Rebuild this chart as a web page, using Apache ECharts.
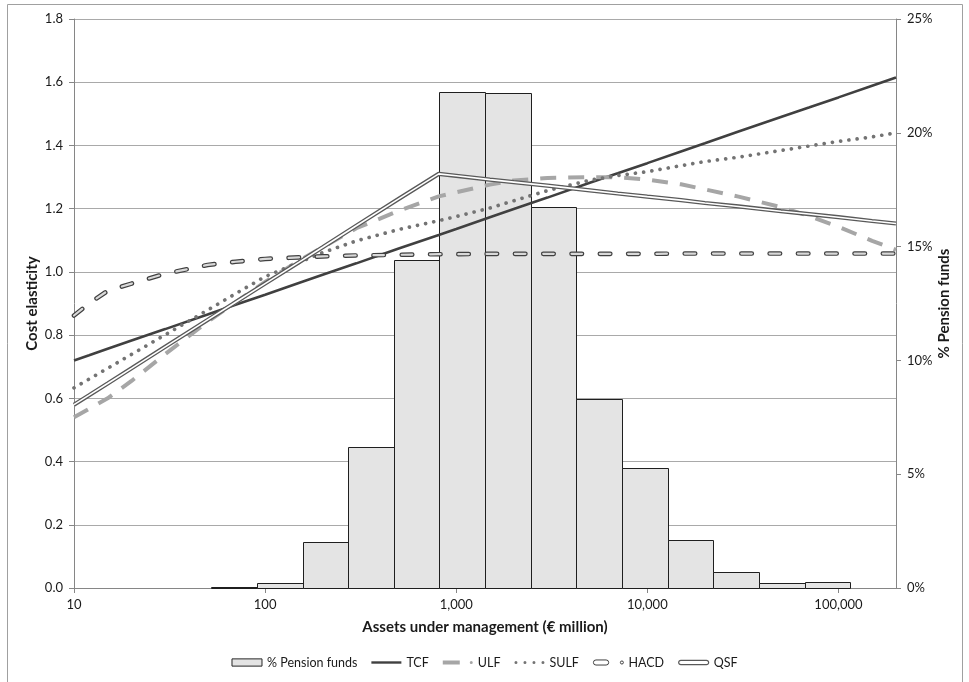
<!DOCTYPE html>
<html>
<head>
<meta charset="utf-8">
<script src="https://cdn.jsdelivr.net/npm/echarts@6/dist/echarts.min.js"></script>
<style>
  html, body { margin: 0; padding: 0; background: #ffffff; }
  #chart { width: 969px; height: 682px; }
</style>
</head>
<body>
<div id="chart"></div>
<script>
// Asset levels (EUR million) at which the elasticity curves are evaluated
const assets = [10, 12, 15, 20, 30, 50, 70, 100, 150, 200, 300, 500, 810, 1000, 1500, 2000,
                3000, 5000, 7000, 10000, 15000, 20000, 30000, 50000, 70000, 100000, 150000, 200000];

// Cost elasticity by model specification
const tcf  = [0.720, 0.736, 0.757, 0.783, 0.819, 0.865, 0.896, 0.928, 0.965, 0.991, 1.027, 1.074, 1.117, 1.136,
              1.173, 1.199, 1.235, 1.282, 1.312, 1.344, 1.381, 1.407, 1.444, 1.490, 1.520, 1.552, 1.589, 1.615];
const ulf  = [0.540, 0.567, 0.600, 0.655, 0.740, 0.842, 0.904, 0.968, 1.035, 1.078, 1.138, 1.193, 1.239, 1.252,
              1.276, 1.289, 1.297, 1.300, 1.299, 1.292, 1.277, 1.261, 1.238, 1.205, 1.177, 1.143, 1.098, 1.070];
const sulf = [0.633, 0.661, 0.695, 0.739, 0.801, 0.879, 0.931, 0.985, 1.030, 1.061, 1.098, 1.134, 1.162, 1.175,
              1.202, 1.225, 1.257, 1.290, 1.305, 1.317, 1.336, 1.349, 1.363, 1.384, 1.398, 1.413, 1.427, 1.440];
const hacd = [0.862, 0.900, 0.940, 0.963, 0.994, 1.022, 1.032, 1.041, 1.046, 1.049, 1.052, 1.054, 1.056, 1.056,
              1.057, 1.057, 1.057, 1.057, 1.057, 1.057, 1.058, 1.058, 1.058, 1.058, 1.058, 1.058, 1.058, 1.058];
const qsf  = [0.580, 0.610, 0.647, 0.695, 0.763, 0.848, 0.904, 0.963, 1.030, 1.078, 1.146, 1.231, 1.310, 1.304,
              1.292, 1.284, 1.273, 1.258, 1.248, 1.238, 1.227, 1.218, 1.207, 1.192, 1.183, 1.173, 1.161, 1.153];

// Size distribution of pension funds: bin edges (EUR million) and share of funds (%)
const binEdges = [52, 91, 157, 273, 473, 816, 1415, 2454, 4250, 7370, 12790, 22150, 38420, 66630, 115400];
const fundShare = [0.05, 0.22, 2.02, 6.20, 14.39, 21.78, 21.74, 16.72, 8.31, 5.27, 2.11, 0.70, 0.22, 0.25];

// Axis ranges
const assetRange = [10, 200000];
const elasticityRange = [0, 1.8, 0.2];
const shareRange = [0, 25, 5];

const FONT = 'Lato, "Open Sans", sans-serif';
const TEXT = '#1a1a1a';
const AXIS = '#868686';

const pair = (ys) => assets.map((a, i) => [a, ys[i]]);
const bins = fundShare.map((s, i) => [binEdges[i], binEdges[i + 1], s]);

const chart = echarts.init(document.getElementById('chart'), null, { renderer: 'canvas' });

const lineBase = {
  type: 'line',
  xAxisIndex: 0,
  yAxisIndex: 0,
  symbol: 'none',
  showSymbol: false,
  smooth: false,
  silent: true,
  z: 3
};

const tickLabel = { fontFamily: FONT, fontSize: 13, color: TEXT };
const titleText = { fontFamily: FONT, fontSize: 15, fontWeight: 'bold', color: TEXT };

chart.setOption({
  animation: false,
  backgroundColor: '#ffffff',
  textStyle: { fontFamily: FONT },
  grid: { left: 74, right: 73, top: 19, bottom: 94 },
  graphic: [{
    type: 'rect',
    silent: true,
    shape: { x: 7.5, y: 4.5, width: 955, height: 720 },
    style: { fill: 'none', stroke: '#a0a0a0', lineWidth: 1 },
    z: -10
  }],
  legend: {
    left: 'center',
    top: 656,
    padding: 0,
    itemWidth: 30,
    itemHeight: 8,
    itemGap: 14,
    selectedMode: false,
    textStyle: { fontFamily: FONT, fontSize: 12.5, color: TEXT },
    data: [
      { name: '% Pension funds', icon: 'path://M0,0H29V7H0Z',
        itemStyle: { color: '#e4e4e4', borderColor: '#262626', borderWidth: 1 } },
      { name: 'TCF', icon: 'path://M0,0H30V2.4H0Z',
        itemStyle: { color: '#404040', borderWidth: 0 } },
      { name: 'ULF', icon: 'path://M0,0H17V4H0Z M27,2a1.5,1.5 0 1,0 3,0a1.5,1.5 0 1,0 -3,0Z',
        itemStyle: { color: '#a6a6a6', borderWidth: 0 } },
      { name: 'SULF', icon: 'path://M0,1.5a1.5,1.5 0 1,0 3,0a1.5,1.5 0 1,0 -3,0Z M9,1.5a1.5,1.5 0 1,0 3,0a1.5,1.5 0 1,0 -3,0Z M18,1.5a1.5,1.5 0 1,0 3,0a1.5,1.5 0 1,0 -3,0Z M27,1.5a1.5,1.5 0 1,0 3,0a1.5,1.5 0 1,0 -3,0Z',
        itemStyle: { color: '#737373', borderWidth: 0 } },
      { name: 'HACD', icon: 'path://M2.5,0H12.5A2.5,2.5 0 0 1 12.5,5H2.5A2.5,2.5 0 0 1 2.5,0Z M26.5,2.5a1.5,1.5 0 1,0 3,0a1.5,1.5 0 1,0 -3,0Z',
        itemStyle: { color: '#ffffff', borderColor: '#404040', borderWidth: 1 } },
      { name: 'QSF', icon: 'path://M2,0H28A2,2 0 0 1 28,4.4H2A2,2 0 0 1 2,0Z',
        itemStyle: { color: '#ffffff', borderColor: '#595959', borderWidth: 1.2 } }
    ]
  },
  xAxis: {
    type: 'log',
    logBase: 10,
    min: assetRange[0],
    max: assetRange[1],
    name: 'Assets under management (€ million)',
    nameLocation: 'middle',
    nameGap: 32,
    nameMoveOverlap: false,
    nameTextStyle: titleText,
    axisLine: { show: true, lineStyle: { color: AXIS, width: 1 } },
    axisTick: { show: true, inside: false, length: 5, lineStyle: { color: AXIS } },
    minorTick: { show: false },
    splitLine: { show: false },
    axisLabel: Object.assign({
      margin: 10,
      showMaxLabel: false,
      formatter: (v) => Math.round(v).toLocaleString('en-US')
    }, tickLabel)
  },
  yAxis: [
    {
      type: 'value',
      position: 'left',
      min: elasticityRange[0],
      max: elasticityRange[1],
      interval: elasticityRange[2],
      name: 'Cost elasticity',
      nameLocation: 'middle',
      nameGap: 34,
      nameMoveOverlap: false,
      nameTextStyle: titleText,
      axisLine: { show: true, lineStyle: { color: AXIS, width: 1 } },
      axisTick: { show: true, inside: false, length: 5, lineStyle: { color: AXIS } },
      splitLine: { show: true, lineStyle: { color: '#a9a9a9', width: 1 } },
      axisLabel: Object.assign({
        margin: 11,
        formatter: (v) => v.toFixed(1)
      }, tickLabel)
    },
    {
      type: 'value',
      position: 'right',
      min: shareRange[0],
      max: shareRange[1],
      interval: shareRange[2],
      name: '% Pension funds',
      nameLocation: 'middle',
      nameGap: 41,
      nameMoveOverlap: false,
      nameRotate: 90,
      nameTextStyle: titleText,
      axisLine: { show: true, lineStyle: { color: AXIS, width: 1 } },
      axisTick: { show: true, inside: false, length: 5, lineStyle: { color: AXIS } },
      splitLine: { show: false },
      axisLabel: Object.assign({
        margin: 11,
        formatter: (v) => v + '%'
      }, tickLabel)
    }
  ],
  series: [
    {
      name: '% Pension funds',
      type: 'custom',
      xAxisIndex: 0,
      yAxisIndex: 1,
      silent: true,
      z: 1,
      encode: { x: [0, 1], y: 2 },
      data: bins,
      itemStyle: { color: '#e4e4e4' },
      renderItem: function (params, api) {
        const base = api.coord([api.value(0), 0]);
        const top = api.coord([api.value(1), api.value(2)]);
        const x0 = Math.round(base[0]) + 0.5;
        const x1 = Math.round(top[0]) + 0.5;
        const y0 = Math.round(base[1]) + 0.5;
        const y1 = Math.round(top[1]) + 0.5;
        return {
          type: 'rect',
          shape: { x: x0, y: y1, width: x1 - x0, height: y0 - y1 },
          style: { fill: '#e4e4e4', stroke: '#1f1f1f', lineWidth: 1 }
        };
      }
    },
    Object.assign({}, lineBase, {
      name: 'TCF',
      data: pair(tcf),
      lineStyle: { color: '#404040', width: 2.6, type: 'solid' },
      itemStyle: { color: '#404040' }
    }),
    Object.assign({}, lineBase, {
      name: 'ULF',
      data: pair(ulf),
      lineStyle: { color: '#a6a6a6', width: 4, type: [16, 12], cap: 'butt' },
      itemStyle: { color: '#a6a6a6' }
    }),
    Object.assign({}, lineBase, {
      name: 'SULF',
      data: pair(sulf),
      lineStyle: { color: '#737373', width: 3.7, type: [0.01, 8.3], cap: 'round' },
      itemStyle: { color: '#737373' }
    }),
    Object.assign({}, lineBase, {
      name: 'HACD',
      data: pair(hacd),
      lineStyle: { color: '#404040', width: 4.6, type: [10.5, 17.8], cap: 'round' },
      itemStyle: { color: '#404040' }
    }),
    Object.assign({}, lineBase, {
      name: 'HACD fill',
      data: pair(hacd),
      z: 4,
      lineStyle: { color: '#d9d9d9', width: 2.2, type: [10.5, 17.8], cap: 'round' },
      itemStyle: { color: '#d9d9d9' }
    }),
    Object.assign({}, lineBase, {
      name: 'QSF',
      data: pair(qsf),
      z: 5,
      lineStyle: { color: '#595959', width: 4.2, type: 'solid' },
      itemStyle: { color: '#595959' }
    }),
    Object.assign({}, lineBase, {
      name: 'QSF fill',
      data: pair(qsf),
      z: 6,
      lineStyle: { color: '#ffffff', width: 1.6, type: 'solid' },
      itemStyle: { color: '#ffffff' }
    })
  ]
});
</script>
</body>
</html>
